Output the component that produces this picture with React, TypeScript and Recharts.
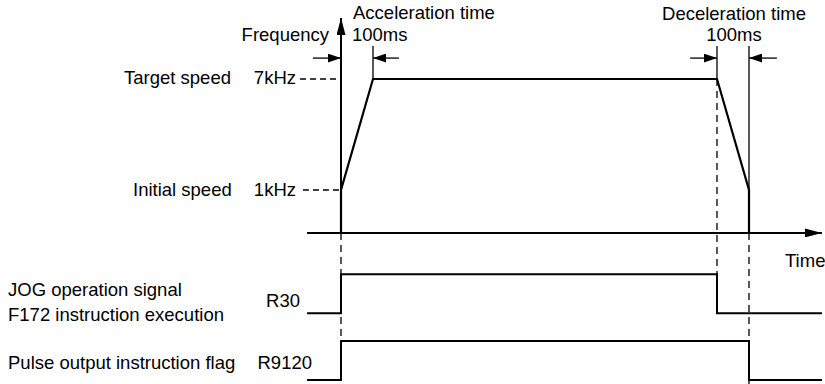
import { ComposedChart, Line, XAxis, YAxis, ReferenceLine } from 'recharts';

// ---- data (time in ms, frequency in kHz, signals 0 = OFF / 1 = ON) ----
const accelMs = [0, 100];
const decelMs = [1175, 1275];
const speedKHz = [1, 7]; // initial speed, target speed

// frequency axis is drawn with a break: the time axis sits a little below 0 kHz
const timeAxisKHz = -1.32;

const profileTime = [accelMs[0], accelMs[0], accelMs[1], decelMs[0], decelMs[1], decelMs[1]];
const profileKHz = [timeAxisKHz, speedKHz[0], speedKHz[1], speedKHz[1], speedKHz[0], timeAxisKHz];

const r30Time = [-106, 0, 0, 1175, 1175, 1503];
const r30Level = [0, 0, 1, 1, 0, 0];
const r9120Time = [-106, 0, 0, 1275, 1275, 1503];
const r9120Level = [0, 0, 1, 1, 0, 0];

// ---- layout of the diagram ----
const W = 825;
const H = 384;
const T_DOMAIN = [-1065.625, 1512.5];
const F_DOMAIN = [-9.487, 11.27];
const S_DOMAIN = [-0.1026, 9.7436];
const R30_ROW = 1.71;
const R9120_ROW = 0;

const fToS = (f: number) => {
  const frac = (F_DOMAIN[1] - f) / (F_DOMAIN[1] - F_DOMAIN[0]);
  return S_DOMAIN[1] - frac * (S_DOMAIN[1] - S_DOMAIN[0]);
};

const freqArrowTip = 10.3;
const dimTop = 8.78;
const dimLine = 8.13;
const tStart = -106;
const tEnd = 1503;
const dashStart = -128;

const FONT = "'Liberation Sans', Arial, sans-serif";
const FS = 18.5;

const profileData = profileTime.map((t, i) => ({ t, v: profileKHz[i] }));
const r30Data = r30Time.map((t, i) => ({ t, v: R30_ROW + r30Level[i] }));
const r9120Data = r9120Time.map((t, i) => ({ t, v: R9120_ROW + r9120Level[i] }));

function Txt({ x, y, anchor = 'start', children }: { x: number; y: number; anchor?: string; children: string }) {
  return (
    <text x={x} y={y} textAnchor={anchor as any} fontFamily={FONT} fontSize={FS} fill="#000">
      {children}
    </text>
  );
}

const dash = { stroke: '#000', strokeWidth: 1.3, strokeDasharray: '6 4' };
const dim = { stroke: '#000', strokeWidth: 1.3 };

export default function App() {
  return (
    <div style={{ position: 'absolute', left: 0, top: 0, background: '#fff' }}>
      <ComposedChart width={W} height={H} margin={{ top: 0, right: 0, bottom: 0, left: 0 }}>
        <defs>
          <marker id="bigArrow" viewBox="0 0 17 9" refX="17" refY="4.5" markerWidth="17" markerHeight="9"
            markerUnits="userSpaceOnUse" orient="auto">
            <path d="M0,0 L17,4.5 L0,9 z" fill="#000" />
          </marker>
          <marker id="smallArrow" viewBox="0 0 13 9" refX="13" refY="4.5" markerWidth="13" markerHeight="9"
            markerUnits="userSpaceOnUse" orient="auto">
            <path d="M0,0 L13,4.5 L0,9 z" fill="#000" />
          </marker>
        </defs>
        <XAxis dataKey="t" type="number" domain={T_DOMAIN} allowDataOverflow hide />
        <YAxis yAxisId="f" type="number" domain={F_DOMAIN} allowDataOverflow hide />
        <YAxis yAxisId="s" type="number" domain={S_DOMAIN} allowDataOverflow hide />

        {/* dashed guide lines */}
        <ReferenceLine yAxisId="f" segment={[{ x: dashStart, y: speedKHz[1] }, { x: 0, y: speedKHz[1] }]} {...dash} />
        <ReferenceLine yAxisId="f" segment={[{ x: -119, y: speedKHz[0] }, { x: 0, y: speedKHz[0] }]} {...dash} />
        <ReferenceLine yAxisId="s" segment={[{ x: 0, y: fToS(timeAxisKHz) }, { x: 0, y: R9120_ROW }]}
          {...dash} strokeDasharray="7 5" />
        <ReferenceLine yAxisId="s" segment={[{ x: decelMs[0], y: fToS(speedKHz[1]) }, { x: decelMs[0], y: R30_ROW }]}
          {...dash} strokeDasharray="7 5" />
        <ReferenceLine yAxisId="s" segment={[{ x: decelMs[1], y: fToS(timeAxisKHz) }, { x: decelMs[1], y: S_DOMAIN[0] }]}
          {...dash} strokeDasharray="7 5" />

        {/* dimension lines */}
        <ReferenceLine yAxisId="f" segment={[{ x: accelMs[1], y: speedKHz[1] }, { x: accelMs[1], y: dimTop }]} {...dim} />
        <ReferenceLine yAxisId="f" segment={[{ x: decelMs[0], y: speedKHz[1] }, { x: decelMs[0], y: dimTop }]} {...dim} />
        <ReferenceLine yAxisId="f" segment={[{ x: decelMs[1], y: speedKHz[0] }, { x: decelMs[1], y: dimTop }]} {...dim} />
        <ReferenceLine yAxisId="f" segment={[{ x: -88, y: dimLine }, { x: accelMs[0], y: dimLine }]}
          {...dim} markerEnd="url(#smallArrow)" />
        <ReferenceLine yAxisId="f" segment={[{ x: 181, y: dimLine }, { x: accelMs[1], y: dimLine }]}
          {...dim} markerEnd="url(#smallArrow)" />
        <ReferenceLine yAxisId="f" segment={[{ x: 1091, y: dimLine }, { x: decelMs[0], y: dimLine }]}
          {...dim} markerEnd="url(#smallArrow)" />
        <ReferenceLine yAxisId="f" segment={[{ x: 1362, y: dimLine }, { x: decelMs[1], y: dimLine }]}
          {...dim} markerEnd="url(#smallArrow)" />

        {/* axes */}
        <ReferenceLine yAxisId="f" segment={[{ x: 0, y: timeAxisKHz }, { x: 0, y: freqArrowTip }]}
          stroke="#000" strokeWidth={2} markerEnd="url(#bigArrow)" />
        <ReferenceLine yAxisId="f" segment={[{ x: tStart, y: timeAxisKHz }, { x: tEnd, y: timeAxisKHz }]}
          stroke="#000" strokeWidth={2} markerEnd="url(#bigArrow)" />

        {/* series */}
        <Line yAxisId="f" data={profileData} dataKey="v" type="linear" stroke="#000" strokeWidth={2.2}
          dot={false} activeDot={false} isAnimationActive={false} />
        <Line yAxisId="s" data={r30Data} dataKey="v" type="linear" stroke="#000" strokeWidth={2}
          dot={false} activeDot={false} isAnimationActive={false} />
        <Line yAxisId="s" data={r9120Data} dataKey="v" type="linear" stroke="#000" strokeWidth={2}
          dot={false} activeDot={false} isAnimationActive={false} />

        {/* texts */}
        <Txt x={353} y={19}>Acceleration time</Txt>
        <Txt x={352} y={41}>100ms</Txt>
        <Txt x={329} y={41} anchor="end">Frequency</Txt>
        <Txt x={734} y={20} anchor="middle">Deceleration time</Txt>
        <Txt x={734} y={41} anchor="middle">100ms</Txt>
        <Txt x={124} y={84}>Target speed</Txt>
        <Txt x={296} y={84} anchor="end">7kHz</Txt>
        <Txt x={133} y={196}>Initial speed</Txt>
        <Txt x={296} y={196} anchor="end">1kHz</Txt>
        <Txt x={785} y={267}>Time</Txt>
        <Txt x={8} y={296}>JOG operation signal</Txt>
        <Txt x={8} y={321}>F172 instruction execution</Txt>
        <Txt x={300} y={307} anchor="end">R30</Txt>
        <Txt x={8} y={369}>Pulse output instruction flag</Txt>
        <Txt x={312} y={369} anchor="end">R9120</Txt>
      </ComposedChart>
    </div>
  );
}
